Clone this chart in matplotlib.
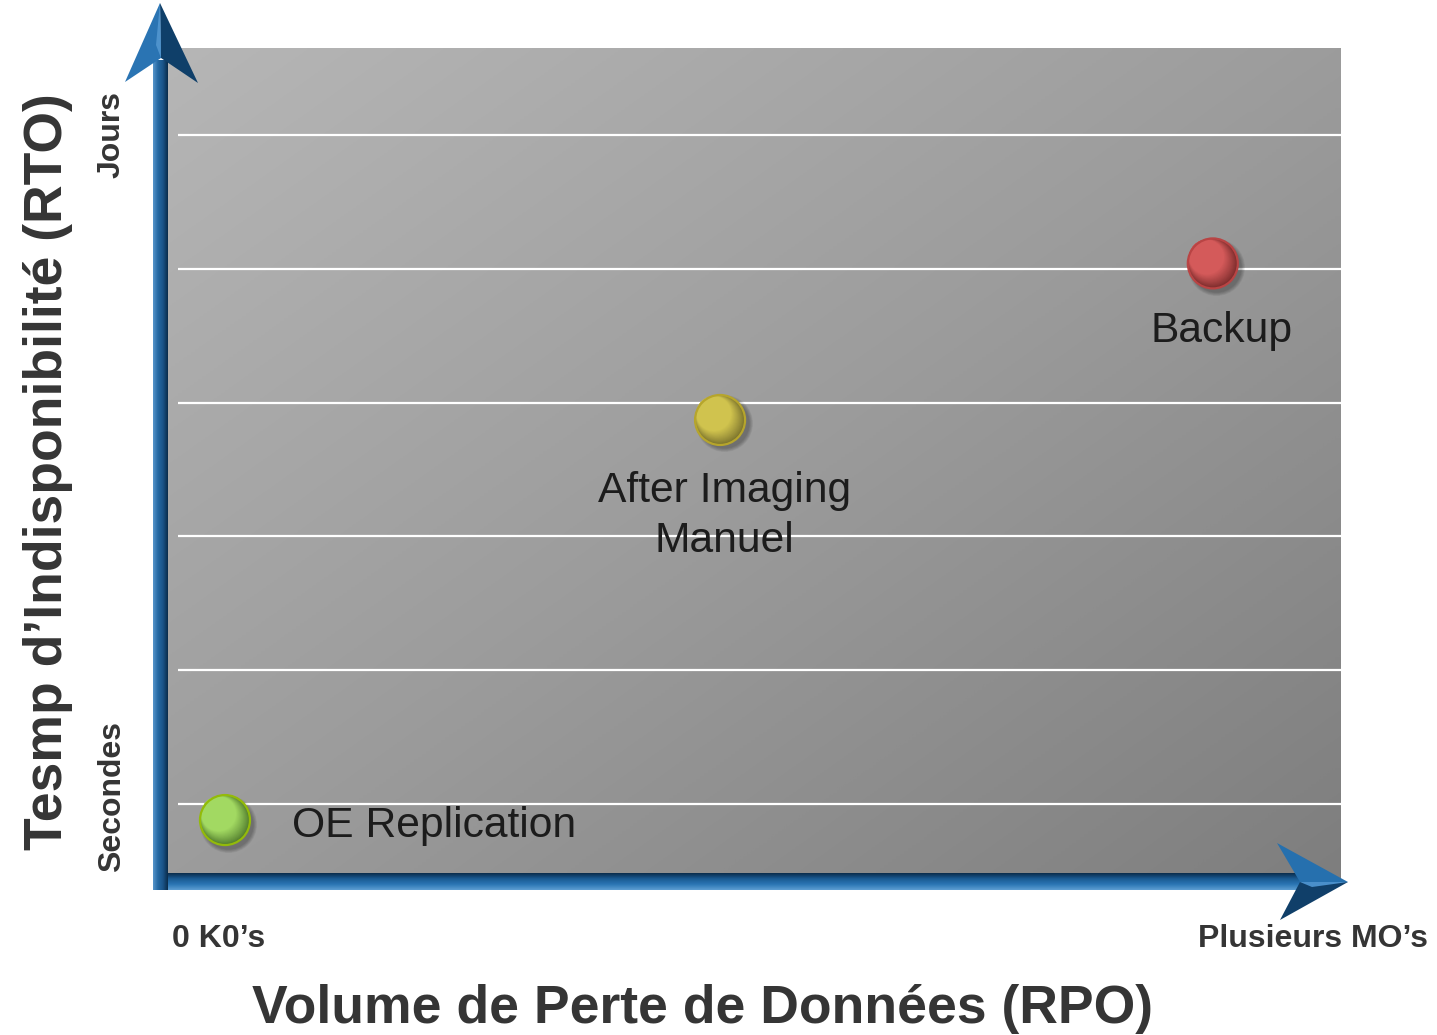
import numpy as np
import matplotlib
matplotlib.use("Agg")
import matplotlib.pyplot as plt
from matplotlib.colors import LinearSegmentedColormap, to_rgb
from matplotlib.patches import Polygon
from matplotlib import transforms

plt.rcParams['font.family'] = ['Liberation Sans', 'DejaVu Sans']

# ---------------- data ----------------
methods = ["OE Replication", "After Imaging\nManuel", "Backup"]
rpo = [5.1, 47.2, 89.1]          # volume de perte de données (0..100 scale)
rto = [0.88, 3.87, 5.04]         # temps d'indisponibilité (grid levels)
fill_colors = ["#a2d962", "#d0c34e", "#d45a5a"]
edge_colors = ["#93ba0a", "#b6a52c", "#b94444"]
dark_colors = ["#4f7a2c", "#78702c", "#782a2a"]
grid_levels = [1, 2, 3, 4, 5, 6]
x_tick_labels = ["0 K0\u2019s", "Plusieurs MO\u2019s"]
y_tick_labels = ["Secondes", "Jours"]
x_title = "Volume de Perte de Donn\u00e9es (RPO)"
y_title = "Tesmp d\u2019Indisponibilit\u00e9 (RTO)"

W, H = 1437, 1035
fig = plt.figure(figsize=(W / 100, H / 100), dpi=100)
fig.patch.set_facecolor("white")

ax = fig.add_axes([165 / W, 1 - 880 / H, 1176 / W, 832 / H])
ax.axis("off")

# diagonal gradient background
gx, gy = np.meshgrid(np.linspace(0, 1, 300), np.linspace(0, 1, 300))
grad = (gx + gy) / 2.0
bg_cmap = LinearSegmentedColormap.from_list("bg", ["#b6b6b6", "#9c9c9c", "#7e7e7e"])
ax.imshow(grad, extent=(0, 1, 0, 1), transform=ax.transAxes, aspect="auto",
          origin="upper", cmap=bg_cmap, zorder=0, interpolation="bilinear")

ax.hlines(grid_levels, 1.1, 100, color="white", lw=1.6, zorder=1)

# points with soft shadow and shading
size = 36
for k in range(6):
    tr = transforms.offset_copy(ax.transData, fig=fig, x=2.5, y=-2.5, units="points")
    ax.scatter(rpo, rto, s=(size + 5 - k) ** 2, color="black", alpha=0.05, lw=0,
               transform=tr, zorder=2)
ax.scatter(rpo, rto, s=size ** 2, c=dark_colors, lw=0, zorder=3)
n_layers = 16
for k in range(1, n_layers + 1):
    t = k / n_layers
    w = t ** 0.85
    cols = [tuple(np.array(to_rgb(d)) * (1 - w) + np.array(to_rgb(f)) * w)
            for d, f in zip(dark_colors, fill_colors)]
    tr = transforms.offset_copy(ax.transData, fig=fig, x=-4.5 * t, y=4.5 * t, units="points")
    ax.scatter(rpo, rto, s=(size * (1 - 0.3 * t)) ** 2, c=cols, lw=0,
               transform=tr, zorder=3 + t)
ax.scatter(rpo, rto, s=size ** 2, facecolors="none", edgecolors=edge_colors,
           lw=1.6, zorder=5)

# labels
offsets = [(48, -4), (3, -69), (6, -49)]
aligns = ["left", "center", "center"]
for name, x, y, off, ha in zip(methods, rpo, rto, offsets, aligns):
    ax.annotate(name, (x, y), xytext=off, textcoords="offset points",
                ha=ha, va="center", fontsize=30.7, color="#1c1c1c",
                multialignment="center", linespacing=1.32, zorder=6)

ax.set_xlim(0, 100)
ax.set_ylim(0.432, 6.65)

# ---------------- arrows (decoration overlay in pixel coords) ----------------
ov = fig.add_axes([0, 0, 1, 1], zorder=5)
ov.patch.set_alpha(0)
ov.axis("off")


def grad_rect(x0, x1, y0, y1, colors, across_x):
    cmap = LinearSegmentedColormap.from_list("g", colors)
    if across_x:
        data = np.linspace(0, 1, 256)[None, :]
    else:
        data = np.linspace(0, 1, 256)[:, None]
    ov.imshow(data, extent=(x0, x1, y1, y0), origin="upper", cmap=cmap,
              aspect="auto", interpolation="bilinear", zorder=1)


# horizontal bar
grad_rect(153, 1300, 873, 890, ["#0a2b4a", "#1a5a92", "#2b76b4", "#5e9ed2"], False)
# vertical bar
grad_rect(153, 168, 60, 890, ["#5796cc", "#2569a3", "#1a5488", "#0a2b4a"], True)

# vertical head
tip, lw_, rw_, notch = (160, 3), (125, 82), (198, 83), (161, 58)
ov.add_patch(Polygon([tip, lw_, notch], closed=True, fc="#2a74b3", ec="none", zorder=3))
ov.add_patch(Polygon([tip, notch, rw_], closed=True, fc="#0f3f69", ec="none", zorder=3))
ov.add_patch(Polygon([tip, (156, 45), notch], closed=True, fc="#4d92cc", ec="none", zorder=3))

# horizontal head
tip, tw, bw, notch = (1348, 882), (1277, 843), (1280, 920), (1300, 882)
ov.add_patch(Polygon([tip, tw, notch], closed=True, fc="#2670ae", ec="none", zorder=3))
ov.add_patch(Polygon([tip, notch, bw], closed=True, fc="#103f69", ec="none", zorder=3))
ov.add_patch(Polygon([tip, (1312, 887), notch], closed=True, fc="#4a8fca", ec="none", zorder=3))

ov.set_xlim(0, W)
ov.set_ylim(H, 0)

# ---------------- texts ----------------
tc = "#353535"
fig.text(48 / W, 1 - 472 / H, y_title, rotation=90, ha="center", va="center",
         fontsize=38.5, fontweight="bold", color=tc)
fig.text(703 / W, 1 - 1009 / H, x_title, ha="center", va="center",
         fontsize=38.5, fontweight="bold", color=tc)
fig.text(112 / W, 1 - 797 / H, y_tick_labels[0], rotation=90, ha="center",
         va="center", fontsize=23, fontweight="bold", color=tc)
fig.text(112 / W, 1 - 135 / H, y_tick_labels[1], rotation=90, ha="center",
         va="center", fontsize=23, fontweight="bold", color=tc)
fig.text(172 / W, 1 - 939 / H, x_tick_labels[0], ha="left", va="center",
         fontsize=23, fontweight="bold", color=tc)
fig.text(1428 / W, 1 - 939 / H, x_tick_labels[1], ha="right", va="center",
         fontsize=23, fontweight="bold", color=tc)

fig.savefig("out.png", dpi=100)
